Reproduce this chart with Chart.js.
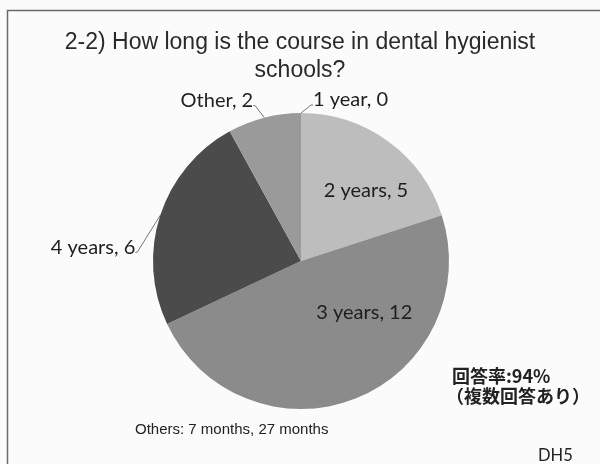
<!DOCTYPE html>
<html>
<head>
<meta charset="utf-8">
<script src="https://cdn.jsdelivr.net/npm/chart.js@4"></script>
<style>
  html, body { margin: 0; padding: 0; background: #fbfbfb; }
  #wrap { width: 600px; height: 464px; position: relative; }
</style>
</head>
<body>
<div id="wrap"><canvas id="myChart" width="600" height="464"></canvas></div>
<script>
// data
const categories = ["1 year", "2 years", "3 years", "4 years", "Other"];
const counts = [0, 5, 12, 6, 2];
const sliceColors = ["#d4d4d4", "#bdbdbd", "#8b8b8b", "#4b4b4b", "#9a9a9a"];

const titleLines = ["2-2) How long is the course in dental hygienist", "schools?"];
const noteOthers = "Others: 7 months, 27 months";
const noteRate = "回答率:94%";
const noteMulti = "（複数回答あり）";
const pageTag = "DH5";

// where each data label sits (inside = polar from centre, outside = offset from the slice edge)
const labelPlace = [
  { mode: "out", dx: 12, dy: -13, align: "left" },
  { mode: "in", angle: 42.5, r: 0.65 },
  { mode: "in", angle: 129, r: 0.55 },
  { mode: "out", dx: -25, dy: 32, align: "right" },
  { mode: "out", dx: -11, dy: -17, align: "right" }
];

const deco = {
  id: "deco",
  beforeDraw(chart) {
    const c = chart.ctx;
    c.save();
    c.fillStyle = "#fbfbfb";
    c.fillRect(0, 0, chart.width, chart.height);
    c.strokeStyle = "#6a6a6a";
    c.lineWidth = 1.5;
    c.beginPath();
    c.moveTo(7.5, 470);
    c.lineTo(7.5, 10.5);
    c.lineTo(610, 10.5);
    c.stroke();
    c.restore();
  },
  afterDatasetsDraw(chart) {
    const c = chart.ctx;
    const arcs = chart.getDatasetMeta(0).data;
    c.save();
    // title
    c.fillStyle = "#2a2a2a";
    c.font = "23px 'Liberation Sans', Arial, sans-serif";
    c.textAlign = "center";
    c.textBaseline = "middle";
    c.fillText(titleLines[0], 300, 43);
    c.fillText(titleLines[1], 300, 71);

    // slice labels
    c.font = "20px Lato, 'Open Sans', sans-serif";
    arcs.forEach((arc, i) => {
      const p = labelPlace[i];
      const txt = categories[i] + ", " + counts[i];
      const mid = (arc.startAngle + arc.endAngle) / 2;
      c.fillStyle = "#1e1e1e";
      if (p.mode === "in") {
        const a = (p.angle - 90) * Math.PI / 180;
        const x = arc.x + Math.cos(a) * arc.outerRadius * p.r;
        const y = arc.y + Math.sin(a) * arc.outerRadius * p.r;
        c.textAlign = "center";
        c.fillText(txt, x, y);
      } else {
        const ex = arc.x + Math.cos(mid) * arc.outerRadius;
        const ey = arc.y + Math.sin(mid) * arc.outerRadius;
        const tx = ex + p.dx;
        const ty = ey + p.dy;
        const lx = tx + (p.align === "left" ? -2 : 2);
        c.strokeStyle = "#555";
        c.lineWidth = 0.8;
        c.beginPath();
        c.moveTo(ex, ey);
        c.lineTo(lx, ty + 5);
        c.lineTo(lx + (p.align === "left" ? 2 : -2), ty + 5);
        c.stroke();
        c.textAlign = p.align;
        c.fillText(txt, tx, ty);
      }
    });

    // notes
    c.textAlign = "left";
    c.fillStyle = "#222";
    c.font = "bold 18px 'Noto Sans CJK JP', sans-serif";
    c.fillText(noteRate, 452, 376);
    c.fillText(noteMulti, 446, 396);
    c.font = "15px 'Liberation Sans', Arial, sans-serif";
    c.fillText(noteOthers, 135, 430);
    c.font = "16.5px Lato, sans-serif";
    c.fillText(pageTag, 538, 456);
    c.restore();
  }
};

const ctx = document.getElementById("myChart").getContext("2d");
const pieChart = new Chart(ctx, {
  type: "pie",
  data: {
    labels: categories,
    datasets: [
      {
        data: counts,
        backgroundColor: sliceColors,
        borderWidth: 0
      }
    ]
  },
  options: {
    responsive: false,
    animation: false,
    layout: { padding: { left: 153, right: 151, top: 113, bottom: 55 } },
    plugins: {
      legend: { display: false },
      tooltip: { enabled: false }
    }
  },
  plugins: [deco]
});
</script>
</body>
</html>
